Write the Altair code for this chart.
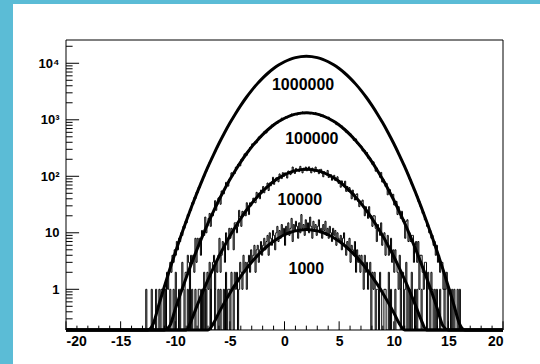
import altair as alt
import pandas as pd

# ---------------------------------------------------------------------------
# Histogram contents (0.1-wide bins), each listed upward from its lower edge.
# Bins outside the listed span are empty.
# ---------------------------------------------------------------------------
h1e6_lo = -13.0
h1e6 = [
    0, 0, 0, 1, 0, 0, 0, 0, 1, 0,
    0, 0, 1, 0, 0, 1, 0, 1, 1, 0,
    1, 1, 2, 1, 2, 3, 2, 4, 3, 5,
    4, 7, 5, 8, 7, 10, 9, 13, 12, 16,
    15, 21, 20, 26, 25, 34, 32, 42, 40, 52,
    51, 64, 64, 78, 80, 97, 99, 119, 122, 146,
    150, 177, 184, 213, 223, 258, 270, 309, 325, 370,
    389, 441, 465, 523, 551, 618, 652, 727, 766, 852,
    898, 992, 1046, 1152, 1212, 1330, 1400, 1530, 1610, 1755,
    1845, 2000, 2100, 2275, 2380, 2570, 2690, 2900, 3020, 3250,
    3380, 3620, 3770, 4020, 4180, 4450, 4620, 4900, 5080, 5370,
    5560, 5860, 6060, 6370, 6570, 6890, 7100, 7420, 7630, 7960,
    8160, 8500, 8700, 9040, 9230, 9560, 9750, 10070, 10240, 10560,
    10720, 11030, 11180, 11470, 11590, 11870, 11960, 12230, 12300, 12540,
    12590, 12800, 12830, 13040, 13020, 13190, 13150, 13300, 13210, 13350,
    13260, 13330, 13190, 13240, 13100, 13120, 12950, 12920, 12730, 12690,
    12460, 12390, 12150, 12060, 11790, 11680, 11390, 11260, 10950, 10810,
    10490, 10330, 9990, 9830, 9480, 9310, 8960, 8780, 8430, 8240,
    7890, 7700, 7360, 7160, 6830, 6640, 6310, 6120, 5800, 5620,
    5310, 5140, 4840, 4680, 4390, 4240, 3970, 3820, 3570, 3440,
    3200, 3070, 2850, 2735, 2530, 2425, 2235, 2140, 1965, 1880,
    1720, 1645, 1500, 1432, 1302, 1241, 1126, 1071, 968, 921,
    829, 788, 706, 671, 599, 569, 506, 481, 426, 405,
    356, 339, 296, 283, 246, 235, 203, 194, 167, 160,
    136, 131, 111, 107, 89, 87, 72, 70, 58, 56,
    46, 45, 36, 36, 29, 28, 22, 23, 17, 18,
    13, 14, 10, 11, 8, 9, 6, 7, 4, 6,
    3, 4, 2, 3, 3, 1, 2, 1, 2, 0,
    1, 1, 0, 1, 0, 1, 0, 0, 1, 0,
    1, 0, 0, 0, 0, 0, 0, 0, 0, 0,
]

h1e5_lo = -11.0
h1e5 = [
    0, 1, 0, 0, 0, 1, 0, 0, 1, 0,
    2, 0, 0, 1, 0, 1, 3, 1, 0, 2,
    2, 4, 3, 0, 4, 3, 4, 2, 8, 3,
    8, 6, 8, 4, 11, 9, 9, 19, 10, 13,
    18, 22, 13, 22, 20, 25, 37, 25, 31, 41,
    43, 32, 55, 53, 49, 59, 78, 78, 67, 88,
    89, 115, 101, 118, 112, 145, 138, 162, 166, 153,
    199, 189, 211, 249, 249, 236, 276, 274, 324, 316,
    375, 349, 382, 414, 390, 447, 496, 481, 490, 547,
    554, 615, 624, 586, 683, 676, 721, 710, 811, 773,
    849, 844, 886, 861, 951, 953, 962, 1071, 1003, 1047,
    1097, 1140, 1076, 1153, 1144, 1186, 1265, 1184, 1222, 1283,
    1283, 1217, 1329, 1306, 1276, 1304, 1375, 1350, 1285, 1344,
    1308, 1360, 1336, 1271, 1351, 1315, 1281, 1249, 1336, 1279,
    1244, 1264, 1188, 1146, 1200, 1208, 1133, 1145, 1067, 1080,
    1114, 1016, 966, 997, 962, 906, 933, 820, 853, 846,
    790, 780, 778, 691, 678, 686, 601, 627, 584, 545,
    563, 506, 497, 432, 460, 457, 382, 386, 352, 352,
    339, 281, 291, 287, 247, 264, 210, 218, 210, 183,
    162, 180, 158, 123, 140, 120, 115, 96, 117, 79,
    89, 81, 66, 75, 47, 58, 58, 46, 46, 48,
    31, 31, 36, 21, 29, 23, 18, 24, 16, 17,
    8, 16, 17, 7, 10, 7, 9, 9, 3, 6,
    7, 3, 7, 1, 4, 4, 2, 1, 3, 3,
    0, 2, 1, 0, 2, 1, 0, 1, 0, 1,
    0, 0, 1, 0, 0, 0, 1, 0, 0, 0,
]

h1e4_lo = -9.0
h1e4 = [
    0, 1, 0, 0, 0, 1, 0, 0, 1, 0,
    0, 1, 1, 0, 1, 0, 2, 1, 0, 2,
    1, 3, 0, 2, 3, 4, 1, 3, 2, 4,
    8, 2, 4, 7, 6, 3, 10, 7, 5, 12,
    8, 12, 11, 5, 15, 15, 10, 13, 25, 19,
    13, 24, 20, 24, 20, 34, 28, 21, 34, 30,
    34, 41, 35, 34, 52, 45, 50, 40, 57, 51,
    66, 51, 59, 66, 76, 56, 76, 68, 79, 96,
    72, 82, 94, 93, 80, 110, 98, 91, 116, 100,
    115, 111, 93, 124, 120, 107, 113, 146, 129, 112,
    138, 126, 132, 121, 150, 134, 115, 139, 128, 146,
    125, 139, 147, 130, 115, 140, 131, 119, 146, 123,
    129, 111, 132, 133, 113, 98, 120, 114, 106, 127,
    95, 106, 107, 85, 95, 104, 84, 86, 98, 75,
    83, 64, 83, 73, 67, 82, 54, 66, 54, 63,
    52, 40, 57, 49, 38, 47, 49, 36, 29, 36,
    35, 38, 28, 20, 29, 24, 18, 29, 19, 20,
    13, 20, 20, 12, 7, 14, 12, 9, 15, 6,
    9, 10, 4, 7, 9, 4, 5, 8, 3, 5,
    2, 5, 3, 2, 1, 4, 1, 2, 2, 0,
    1, 3, 0, 1, 1, 0, 2, 0, 0, 1,
    0, 1, 0, 0, 0, 1, 0, 0, 0, 0,
]

h1e3_lo = -8.0
h1e3 = [
    0, 0, 0, 0, 0, 0, 0, 1, 0, 0,
    0, 0, 1, 0, 0, 0, 1, 0, 0, 1,
    0, 1, 0, 0, 1, 0, 2, 0, 1, 1,
    0, 2, 1, 0, 2, 1, 2, 0, 1, 3,
    2, 1, 4, 2, 3, 1, 3, 4, 2, 5,
    3, 4, 6, 2, 5, 6, 3, 5, 7, 4,
    6, 8, 5, 7, 9, 4, 10, 8, 6, 11,
    9, 5, 10, 13, 7, 11, 8, 14, 9, 12,
    6, 13, 10, 15, 9, 12, 18, 7, 14, 11,
    16, 13, 8, 15, 10, 21, 12, 14, 9, 17,
    11, 15, 10, 19, 13, 8, 16, 12, 14, 9,
    13, 17, 10, 12, 8, 14, 11, 16, 9, 12,
    8, 13, 10, 7, 12, 9, 11, 6, 10, 8,
    7, 9, 5, 8, 10, 6, 4, 7, 5, 8,
    3, 6, 5, 4, 7, 2, 5, 3, 4, 2,
    4, 3, 1, 4, 2, 3, 1, 2, 3, 0,
    2, 1, 2, 0, 1, 1, 0, 2, 1, 0,
    0, 1, 1, 0, 0, 2, 0, 1, 0, 0,
    0, 1, 0, 0, 0, 0, 1, 0, 0, 0,
    0, 0, 0, 0, 1, 0, 0, 0, 0, 0,
]

# ---------------------------------------------------------------------------
# Fitted Gaussians, sampled every 0.5 from x = -20 to x = 20.
# ---------------------------------------------------------------------------
fit_x0, fit_dx = -20.0, 0.5
fit1e6 = [
    2e-8, 7e-8, 2.5e-7, 8e-7, 2.6e-6, 8e-6, 2.4e-5, 7e-5, 2.0e-4, 5.4e-4,
    0.0014, 0.0036, 0.0088, 0.021, 0.050, 0.113, 0.249, 0.533, 1.11, 2.26,
    4.46, 8.57, 16.0, 29.1, 51.4, 88.4, 148, 240, 380, 584,
    874, 1270, 1800, 2480, 3320, 4320, 5470, 6730, 8070, 9400,
    10650, 11740, 12580, 13120, 13300, 13120, 12580, 11740, 10650, 9400,
    8070, 6730, 5470, 4320, 3320, 2480, 1800, 1270, 874, 584,
    380, 240, 148, 88.4, 51.4, 29.1, 16.0, 8.57, 4.46, 2.26,
    1.11, 0.533, 0.249, 0.113, 0.050, 0.021, 0.0088, 0.0036, 0.0014, 5.4e-4,
    2.0e-4,
]
fit1e5 = [
    2e-9, 7e-9, 2.5e-8, 8e-8, 2.6e-7, 8e-7, 2.4e-6, 7e-6, 2.0e-5, 5.4e-5,
    1.4e-4, 3.6e-4, 8.8e-4, 0.0021, 0.0050, 0.0113, 0.0249, 0.0533, 0.111, 0.226,
    0.446, 0.857, 1.60, 2.91, 5.14, 8.84, 14.8, 24.0, 38.0, 58.4,
    87.4, 127, 180, 248, 332, 432, 547, 673, 807, 940,
    1065, 1174, 1258, 1312, 1330, 1312, 1258, 1174, 1065, 940,
    807, 673, 547, 432, 332, 248, 180, 127, 87.4, 58.4,
    38.0, 24.0, 14.8, 8.84, 5.14, 2.91, 1.60, 0.857, 0.446, 0.226,
    0.111, 0.0533, 0.0249, 0.0113, 0.0050, 0.0021, 8.8e-4, 3.6e-4, 1.4e-4, 5.4e-5,
    2.0e-5,
]
fit1e4 = [
    2e-10, 7e-10, 2.5e-9, 8e-9, 2.6e-8, 8e-8, 2.4e-7, 7e-7, 2.0e-6, 5.4e-6,
    1.4e-5, 3.6e-5, 8.8e-5, 2.1e-4, 5.0e-4, 0.00113, 0.00249, 0.00533, 0.0111, 0.0226,
    0.0446, 0.0857, 0.160, 0.291, 0.514, 0.884, 1.48, 2.40, 3.80, 5.84,
    8.74, 12.7, 18.0, 24.8, 33.2, 43.2, 54.7, 67.3, 80.7, 94.0,
    106.5, 117.4, 125.8, 131.2, 133.0, 131.2, 125.8, 117.4, 106.5, 94.0,
    80.7, 67.3, 54.7, 43.2, 33.2, 24.8, 18.0, 12.7, 8.74, 5.84,
    3.80, 2.40, 1.48, 0.884, 0.514, 0.291, 0.160, 0.0857, 0.0446, 0.0226,
    0.0111, 0.00533, 0.00249, 0.00113, 5.0e-4, 2.1e-4, 8.8e-5, 3.6e-5, 1.4e-5, 5.4e-6,
    2.0e-6,
]
fit1e3 = [
    8.7e-11, 2.7e-10, 8.4e-10, 2.5e-9, 7.4e-9, 2.1e-8, 5.8e-8, 1.6e-7, 4.1e-7, 1.1e-6,
    2.6e-6, 6.4e-6, 1.5e-5, 3.4e-5, 7.8e-5, 1.7e-4, 3.6e-4, 7.4e-4, 0.0015, 0.0029,
    0.0056, 0.0104, 0.0189, 0.0334, 0.0574, 0.0961, 0.157, 0.249, 0.386, 0.581,
    0.853, 1.22, 1.70, 2.30, 3.04, 3.90, 4.89, 5.96, 7.08, 8.19,
    9.23, 10.12, 10.81, 11.25, 11.40, 11.25, 10.81, 10.12, 9.23, 8.19,
    7.08, 5.96, 4.89, 3.90, 3.04, 2.30, 1.70, 1.22, 0.853, 0.581,
    0.386, 0.249, 0.157, 0.0961, 0.0574, 0.0334, 0.0189, 0.0104, 0.0056, 0.0029,
    0.0015, 7.4e-4, 3.6e-4, 1.7e-4, 7.8e-5, 3.4e-5, 1.5e-5, 6.4e-6, 2.6e-6, 1.1e-6,
    4.1e-7,
]

# Curve labels (number of entries), placed in data coordinates.
label_text = ["1000000", "100000", "10000", "1000"]
label_x = [1.7, 2.5, 1.4, 2.0]
label_y = [4100, 457, 38, 2.29]

# Axis ticks.
x_major = [-20, -15, -10, -5, 0, 5, 10, 15, 20]
x_minor = [-19, -18, -17, -16, -14, -13, -12, -11, -9, -8, -7, -6, -4, -3, -2, -1,
           1, 2, 3, 4, 6, 7, 8, 9, 11, 12, 13, 14, 16, 17, 18, 19]
y_major = [1, 10, 100, 1000, 10000]
y_major_text = ["1", "10", "10\u00b2", "10\u00b3", "10\u2074"]
y_minor = [0.2, 0.3, 0.4, 0.5, 0.6, 0.7, 0.8, 0.9,
           2, 3, 4, 5, 6, 7, 8, 9,
           20, 30, 40, 50, 60, 70, 80, 90,
           200, 300, 400, 500, 600, 700, 800, 900,
           2000, 3000, 4000, 5000, 6000, 7000, 8000, 9000,
           20000]

X_LO, X_HI = -20.0, 20.0
Y_LO, Y_HI = 0.1904, 25820
BIN = 0.1
W, H = 437, 290
PAD_L, PAD_T, PAD_R, PAD_B = 66, 40, 37, 34
FONT = "Liberation Sans"
EDGE = "#5bbcd6"

# ---------------------------------------------------------------------------
# Tables
# ---------------------------------------------------------------------------
hist_rows = []
for name, lo, counts in [("1000000", h1e6_lo, h1e6), ("100000", h1e5_lo, h1e5),
                         ("10000", h1e4_lo, h1e4), ("1000", h1e3_lo, h1e3)]:
    nbins = round((X_HI - X_LO) / BIN)
    first = round((lo - X_LO) / BIN)
    full = [0] * nbins
    for j, c in enumerate(counts):
        full[first + j] = c
    for i, c in enumerate(full + [full[-1]]):
        # empty bins sit on the lower edge of the frame, as on a log axis
        hist_rows.append({"h": name, "o": i, "x": round(X_LO + i * BIN, 3),
                          "n": max(c, Y_LO)})
hist_df = pd.DataFrame(hist_rows)

fit_rows = []
for name, vals in [("1000000", fit1e6), ("100000", fit1e5),
                   ("10000", fit1e4), ("1000", fit1e3)]:
    for j, v in enumerate(vals):
        fit_rows.append({"h": name, "o": j, "x": fit_x0 + j * fit_dx, "f": max(v, Y_LO)})
fit_df = pd.DataFrame(fit_rows)

label_df = pd.DataFrame({"t": label_text, "x": label_x, "y": label_y})

xs = alt.Scale(domain=[X_LO, X_HI], nice=False, zero=False)
ys = alt.Scale(type="log", domain=[Y_LO, Y_HI], nice=False, clamp=True)

label_expr = " : ".join(f"datum.value == {v} ? '{t}'" for v, t in zip(y_major, y_major_text)) + " : ''"

x_axis = alt.Axis(values=x_major, labelExpr="'' + datum.value", ticks=False, domain=False,
                  grid=False, labelFont=FONT, labelFontWeight="bold", labelFontSize=14,
                  labelColor="black", labelPadding=4, title=None, zindex=1)
y_axis = alt.Axis(values=y_major, labelExpr=label_expr, ticks=False, domain=False,
                  grid=False, labelFont=FONT, labelFontWeight="bold", labelFontSize=13,
                  labelColor="black", labelPadding=7, title=None, zindex=1)

# coloured page edges on the left and along the top
edge_df = pd.DataFrame({"a": [0]})
edge_left = alt.Chart(edge_df).mark_rect(color=EDGE).encode(
    x=alt.value(-PAD_L), x2=alt.value(13 - PAD_L),
    y=alt.value(-PAD_T), y2=alt.value(H + PAD_B))
edge_top = alt.Chart(edge_df).mark_rect(color=EDGE).encode(
    x=alt.value(13 - PAD_L), x2=alt.value(W + PAD_R),
    y=alt.value(-PAD_T), y2=alt.value(4 - PAD_T))

hists = alt.Chart(hist_df).mark_line(
    interpolate="step-after", color="black", strokeWidth=1, clip=True
).encode(
    x=alt.X("x:Q", scale=xs, axis=x_axis),
    y=alt.Y("n:Q", scale=ys, axis=y_axis),
    detail="h:N",
    order="o:Q",
)

# the clamped scale keeps the fits inside the frame; the parts below the
# lowest decade run along the bottom edge at full width
fits = alt.Chart(fit_df).mark_line(
    interpolate="monotone", color="black", strokeWidth=3
).encode(
    x=alt.X("x:Q", scale=xs),
    y=alt.Y("f:Q", scale=ys),
    detail="h:N",
    order="o:Q",
)

xt_major = alt.Chart(pd.DataFrame({"x": x_major})).mark_rule(color="black", strokeWidth=1).encode(
    x=alt.X("x:Q", scale=xs), y=alt.value(H), y2=alt.value(H - 8.7))
xt_minor = alt.Chart(pd.DataFrame({"x": x_minor})).mark_rule(color="black", strokeWidth=1).encode(
    x=alt.X("x:Q", scale=xs), y=alt.value(H), y2=alt.value(H - 4.35))
yt_major = alt.Chart(pd.DataFrame({"y": y_major})).mark_rule(color="black", strokeWidth=1).encode(
    y=alt.Y("y:Q", scale=ys), x=alt.value(0), x2=alt.value(13.1))
yt_minor = alt.Chart(pd.DataFrame({"y": y_minor})).mark_rule(color="black", strokeWidth=1).encode(
    y=alt.Y("y:Q", scale=ys), x=alt.value(0), x2=alt.value(6.6))

labels = alt.Chart(label_df).mark_text(
    font=FONT, fontWeight="bold", fontSize=16, color="black", align="center", baseline="middle"
).encode(x=alt.X("x:Q", scale=xs), y=alt.Y("y:Q", scale=ys), text="t:N")

# frame around the plotting area
frame = alt.Chart(edge_df).mark_rect(fill=None, stroke="black", strokeWidth=1).encode(
    x=alt.value(0), x2=alt.value(W), y=alt.value(0), y2=alt.value(H))

chart = alt.layer(
    edge_left, edge_top, hists, fits, xt_major, xt_minor, yt_major, yt_minor, labels, frame
).properties(
    width=W, height=H,
    background="white",
    autosize=alt.AutoSizeParams(type="none"),
    padding={"left": PAD_L, "top": PAD_T, "right": PAD_R, "bottom": PAD_B},
).configure_view(
    stroke=None
)

chart.save("out.html", embed_options={"renderer": "svg", "actions": False})
